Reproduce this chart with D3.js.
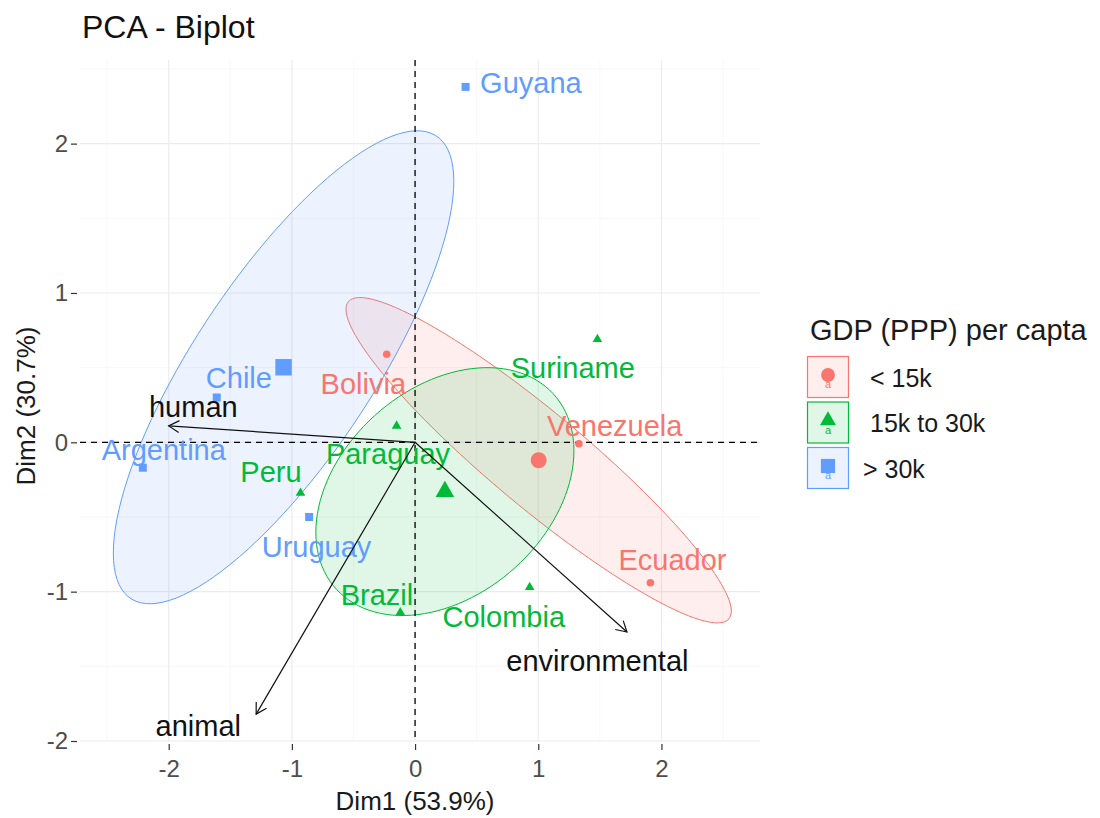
<!DOCTYPE html>
<html>
  <head>
    <title>PCA - Biplot</title>
    <script src="https://d3js.org/d3.v7.min.js"></script>
    <style>
        body { margin: 0; background: #fff; }
        text { font-family: "Liberation Sans", Arial, sans-serif; }
        .grid-major { stroke: #ebebeb; stroke-width: 1.1px; }
        .grid-minor { stroke: #f3f3f3; stroke-width: 0.6px; }
        .tick-label { font-size: 24px; fill: #4d4d4d; }
        .axis-title { font-size: 26px; fill: #1a1a1a; }
        .pt-label { font-size: 29px; }
        .var-label { font-size: 29px; fill: #111; }
    </style>
  </head>
  <body>
    <svg width="1100" height="818"></svg>
    <script>
        // individuals (coordinates)
        const countries = ["Bolivia", "Venezuela", "Ecuador",
                           "Suriname", "Paraguay", "Peru", "Brazil", "Colombia",
                           "Guyana", "Chile", "Argentina", "Uruguay"];
        const groupOf = ["< 15k", "< 15k", "< 15k",
                         "15k to 30k", "15k to 30k", "15k to 30k", "15k to 30k", "15k to 30k",
                         "> 30k", "> 30k", "> 30k", "> 30k"];
        const dim1 = [-0.23, 1.33, 1.91, 1.48, -0.15, -0.93, -0.12, 0.93, 0.41, -1.61, -2.21, -0.86];
        const dim2 = [0.59, -0.01, -0.94, 0.69, 0.11, -0.34, -1.14, -0.97, 2.38, 0.30, -0.17, -0.50];
        // where the (repelled) labels sit, in data units
        const labX = [-0.42, 1.62, 2.09, 1.28, -0.22, -1.17, -0.31, 0.72, 0.94, -1.43, -2.04, -0.80];
        const labY = [0.39, 0.11, -0.79, 0.50, -0.08, -0.20, -1.02, -1.17, 2.41, 0.43, -0.05, -0.70];

        // variables
        const variables = ["human", "animal", "environmental"];
        const varX = [-2.0, -1.29, 1.72];
        const varY = [0.11, -1.82, -1.27];
        const varLabX = [-1.8, -1.76, 1.48];
        const varLabY = [0.24, -1.90, -1.46];

        const groups = ["< 15k", "15k to 30k", "> 30k"];
        const groupColors = ["#F8766D", "#00BA38", "#619CFF"];
        const xTicks = [-2, -1, 0, 1, 2];
        const yTicks = [-2, -1, 0, 1, 2];

        const svg = d3.select("svg");
        const panel = {left: 80, right: 760, top: 60, bottom: 741};

        const x = d3.scaleLinear().domain([-2.72, 2.80]).range([panel.left, panel.right]);
        const y = d3.scaleLinear().domain([-2.0, 2.56]).range([panel.bottom, panel.top]);
        const color = d3.scaleOrdinal().domain(groups).range(groupColors);
        const symType = d3.scaleOrdinal().domain(groups)
            .range([d3.symbolCircle, d3.symbolTriangle, d3.symbolSquare]);
        const smallSize = {"< 15k": 45, "15k to 30k": 40, "> 30k": 64};
        const bigSize = {"< 15k": 200, "15k to 30k": 150, "> 30k": 270};

        // grid
        const minorX = d3.range(-2.5, 3, 1), minorY = d3.range(-1.5, 3, 1);
        svg.append("g").selectAll("line").data(minorX).enter().append("line")
            .attr("class", "grid-minor")
            .attr("x1", d => x(d)).attr("x2", d => x(d))
            .attr("y1", panel.top).attr("y2", panel.bottom);
        svg.append("g").selectAll("line").data(minorY).enter().append("line")
            .attr("class", "grid-minor")
            .attr("y1", d => y(d)).attr("y2", d => y(d))
            .attr("x1", panel.left).attr("x2", panel.right);
        svg.append("g").selectAll("line").data(xTicks).enter().append("line")
            .attr("class", "grid-major")
            .attr("x1", d => x(d)).attr("x2", d => x(d))
            .attr("y1", panel.top).attr("y2", panel.bottom);
        svg.append("g").selectAll("line").data(yTicks).enter().append("line")
            .attr("class", "grid-major")
            .attr("y1", d => y(d)).attr("y2", d => y(d))
            .attr("x1", panel.left).attr("x2", panel.right);

        // axes (ticks + labels, no domain line)
        const xAxis = svg.append("g")
            .attr("transform", `translate(0,${panel.bottom + 3})`)
            .call(d3.axisBottom(x).tickValues(xTicks).tickSize(6).tickPadding(10));
        const yAxis = svg.append("g")
            .attr("transform", `translate(${panel.left - 3},0)`)
            .call(d3.axisLeft(y).tickValues(yTicks).tickSize(6).tickPadding(3));
        [xAxis, yAxis].forEach(a => {
            a.select(".domain").remove();
            a.selectAll(".tick line").attr("stroke", "#333").attr("stroke-width", 1.2);
            a.selectAll(".tick text").attr("class", "tick-label")
                .style("font-family", "Liberation Sans, Arial, sans-serif")
                .text(d => d < 0 ? "-" + Math.abs(d) : d);
        });

        // confidence ellipses around group means
        const groupStats = groups.map(g => {
            const idx = d3.range(countries.length).filter(i => groupOf[i] === g);
            const n = idx.length;
            const mx = d3.mean(idx, i => dim1[i]), my = d3.mean(idx, i => dim2[i]);
            const sxx = d3.sum(idx, i => (dim1[i] - mx) ** 2) / (n - 1);
            const syy = d3.sum(idx, i => (dim2[i] - my) ** 2) / (n - 1);
            const sxy = d3.sum(idx, i => (dim1[i] - mx) * (dim2[i] - my)) / (n - 1);
            const r = Math.sqrt(5.991 / n);
            const a = Math.sqrt(sxx), b = sxy / a, c = Math.sqrt(Math.max(syy - b * b, 0));
            const pts = d3.range(0, 361, 3).map(t => {
                const th = t * Math.PI / 180;
                return [mx + r * a * Math.cos(th), my + r * (b * Math.cos(th) + c * Math.sin(th))];
            });
            return {group: g, mx, my, pts};
        });

        const lineGen = d3.line().x(d => x(d[0])).y(d => y(d[1]));
        svg.append("g").selectAll("path").data(groupStats).enter().append("path")
            .attr("d", d => lineGen(d.pts) + "Z")
            .attr("fill", d => color(d.group))
            .attr("fill-opacity", 0.12)
            .attr("stroke", d => color(d.group))
            .attr("stroke-width", 1);

        // reference dashed lines
        svg.append("line")
            .attr("x1", x(0)).attr("x2", x(0))
            .attr("y1", panel.top).attr("y2", panel.bottom)
            .attr("stroke", "#000").attr("stroke-width", 1.3).attr("stroke-dasharray", "6,5");
        svg.append("line")
            .attr("y1", y(0)).attr("y2", y(0))
            .attr("x1", panel.left).attr("x2", panel.right)
            .attr("stroke", "#000").attr("stroke-width", 1.3).attr("stroke-dasharray", "6,5");

        // individual points
        svg.append("g").selectAll("path").data(countries).enter().append("path")
            .attr("transform", (d, i) => `translate(${x(dim1[i])},${y(dim2[i])})`)
            .attr("d", (d, i) => d3.symbol().type(symType(groupOf[i])).size(smallSize[groupOf[i]])())
            .attr("fill", (d, i) => color(groupOf[i]));

        // group means
        svg.append("g").selectAll("path").data(groupStats).enter().append("path")
            .attr("transform", d => `translate(${x(d.mx)},${y(d.my)})`)
            .attr("d", d => d3.symbol().type(symType(d.group)).size(bigSize[d.group])())
            .attr("fill", d => color(d.group));

        // point labels
        svg.append("g").selectAll("text").data(countries).enter().append("text")
            .attr("class", "pt-label")
            .attr("x", (d, i) => x(labX[i]))
            .attr("y", (d, i) => y(labY[i]))
            .attr("dy", "0.35em")
            .attr("text-anchor", "middle")
            .attr("fill", (d, i) => color(groupOf[i]))
            .text(d => d);

        // variable arrows
        const arrows = svg.append("g");
        variables.forEach((v, i) => {
            const x0 = x(0), y0 = y(0), x1 = x(varX[i]), y1 = y(varY[i]);
            const ang = Math.atan2(y1 - y0, x1 - x0);
            const hl = 12, spread = Math.PI / 6;
            arrows.append("line")
                .attr("x1", x0).attr("y1", y0).attr("x2", x1).attr("y2", y1)
                .attr("stroke", "#111").attr("stroke-width", 1.2);
            arrows.append("path")
                .attr("d", `M${x1 - hl * Math.cos(ang - spread)},${y1 - hl * Math.sin(ang - spread)}` +
                           `L${x1},${y1}` +
                           `L${x1 - hl * Math.cos(ang + spread)},${y1 - hl * Math.sin(ang + spread)}`)
                .attr("fill", "none").attr("stroke", "#111").attr("stroke-width", 1.2);
            arrows.append("text")
                .attr("class", "var-label")
                .attr("x", x(varLabX[i]))
                .attr("y", y(varLabY[i]))
                .attr("dy", "0.35em")
                .attr("text-anchor", "middle")
                .text(v);
        });

        // titles
        svg.append("text")
            .attr("x", 82).attr("y", 38)
            .style("font-size", "32px").attr("fill", "#111")
            .text("PCA - Biplot");
        svg.append("text")
            .attr("class", "axis-title")
            .attr("x", x(0)).attr("y", 810)
            .attr("text-anchor", "middle")
            .text("Dim1 (53.9%)");
        svg.append("text")
            .attr("class", "axis-title")
            .attr("transform", `translate(35,406) rotate(-90)`)
            .attr("text-anchor", "middle")
            .text("Dim2 (30.7%)");

        // legend
        const legend = svg.append("g").attr("transform", "translate(807,0)");
        legend.append("text")
            .attr("x", 3).attr("y", 340)
            .style("font-size", "29px").attr("fill", "#1a1a1a")
            .text("GDP (PPP) per capta");
        groups.forEach((g, i) => {
            const ky = 356 + i * 45.5;
            const key = legend.append("g").attr("transform", `translate(0,${ky})`);
            key.append("rect")
                .attr("x", 0.5).attr("y", 0.5).attr("width", 41).attr("height", 41)
                .attr("fill", color(g)).attr("fill-opacity", 0.12)
                .attr("stroke", color(g)).attr("stroke-width", 1.2);
            key.append("path")
                .attr("transform", "translate(21,19)")
                .attr("d", d3.symbol().type(symType(g)).size(bigSize[g] * 0.75)())
                .attr("fill", color(g));
            key.append("text")
                .attr("x", 21).attr("y", 32)
                .attr("text-anchor", "middle")
                .style("font-size", "11px").attr("fill", color(g))
                .text("a");
            key.append("text")
                .attr("x", i === 2 ? 56 : 63).attr("y", 22)
                .attr("dy", "0.35em")
                .style("font-size", "25px").attr("fill", "#1a1a1a")
                .text(g);
        });
    </script>
  </body>
</html>
